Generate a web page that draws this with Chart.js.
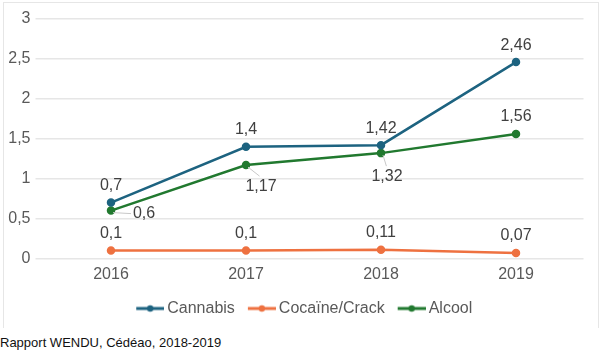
<!DOCTYPE html>
<html>
<head>
<meta charset="utf-8">
<script src="https://cdn.jsdelivr.net/npm/chart.js@4.4.1/dist/chart.umd.min.js"></script>
<style>
  body { margin: 0; background: #fff; font-family: "Liberation Sans", Arial, sans-serif; }
  #frame { position: absolute; left: 3px; top: 2px; width: 594px; height: 325px;
    border: 1px solid #e6e6e6; border-bottom: none; }
  #wrap { position: absolute; left: 0; top: 0; width: 599px; height: 330px; }
  #source { position: absolute; left: 0; top: 335px; font-size: 13px; color: #111; }
</style>
</head>
<body>
<div id="frame"></div>
<div id="wrap"><canvas id="chart"></canvas></div>
<div id="source">Rapport WENDU, Cédéao, 2018-2019</div>
<script>
const years = ['2016', '2017', '2018', '2019'];
const cannabis = [0.7, 1.4, 1.42, 2.46];
const cocaine = [0.1, 0.1, 0.11, 0.07];
const alcool = [0.6, 1.17, 1.32, 1.56];
const yTicks = [0, 0.5, 1, 1.5, 2, 2.5, 3];

const colors = ['#1d6380', '#ee7140', '#21792f'];
const FONT = '"Liberation Sans", Arial, sans-serif';

// label offsets from the point (dx, dy) and whether a leader line is drawn
const labelOffsets = [
  [[0, -17], [0, -17], [0, -17], [0, -17]],
  [[0, -17], [0, -17], [0, -17], [0, -17]],
  [[33, 3], [15, 21], [6, 23], [0, -17]]
];
const leaders = [
  [false, false, false, false],
  [false, false, false, false],
  [true, true, true, false]
];

const fmt = v => String(v).replace('.', ',');

const legendIcon = color => {
  const c = document.createElement('canvas');
  c.width = 38; c.height = 10;
  const ctx = c.getContext('2d');
  ctx.strokeStyle = color;
  ctx.lineWidth = 3;
  ctx.beginPath(); ctx.moveTo(10, 5); ctx.lineTo(38, 5); ctx.stroke();
  ctx.fillStyle = color;
  ctx.beginPath(); ctx.arc(24, 5, 3.2, 0, Math.PI * 2); ctx.fill();
  return c;
};

const valueLabels = {
  id: 'valueLabels',
  afterDatasetsDraw(chart) {
    const ctx = chart.ctx;
    ctx.save();
    ctx.font = '16px ' + FONT;
    ctx.textAlign = 'center';
    ctx.textBaseline = 'middle';
    chart.data.datasets.forEach((ds, i) => {
      chart.getDatasetMeta(i).data.forEach((pt, j) => {
        const [dx, dy] = labelOffsets[i][j];
        const lx = pt.x + dx, ly = pt.y + dy;
        if (leaders[i][j]) {
          ctx.strokeStyle = '#c8c8c8';
          ctx.lineWidth = 1;
          ctx.beginPath();
          ctx.moveTo(pt.x + 2, pt.y + 2);
          const tx = dx > 20 ? lx - 13 : lx - dx * 0.1;
          const ty = dx > 20 ? ly : ly - 10;
          ctx.lineTo(tx, ty);
          ctx.stroke();
        }
        ctx.fillStyle = '#404040';
        ctx.fillText(fmt(ds.data[j]), lx, ly);
      });
    });
    ctx.restore();
  }
};

// nudge the legend so it is centred under the whole frame
const legendShift = {
  id: 'legendShift',
  afterLayout(chart) {
    if (chart.legend) {
      chart.legend.left += 10;
      chart.legend.right += 10;
    }
  }
};

const mkSet = (label, data, color) => ({
  label, data,
  borderColor: color,
  backgroundColor: color,
  borderWidth: 2.5,
  pointRadius: 3,
  pointHoverRadius: 3,
  pointStyle: 'circle',
  tension: 0
});

const chart = new Chart(document.getElementById('chart'), {
  type: 'line',
  data: {
    labels: years,
    datasets: [
      mkSet('Cannabis', cannabis, colors[0]),
      mkSet('Cocaïne/Crack', cocaine, colors[1]),
      mkSet('Alcool', alcool, colors[2])
    ]
  },
  options: {
    responsive: true,
    maintainAspectRatio: false,
    animation: false,
    layout: { padding: { top: 19, right: 15.5, bottom: 3.5, left: 0 } },
    scales: {
      x: {
        offset: true,
        grid: { display: false, drawTicks: false },
        border: { display: false },
        ticks: { color: '#595959', padding: 6, font: { family: FONT, size: 16 } },
        afterFit: s => { s.height = 34; }
      },
      y: {
        min: 0, max: 3,
        afterBuildTicks: s => { s.ticks = yTicks.map(v => ({ value: v })); },
        grid: { color: '#e6e6e6', lineWidth: 1.5, tickLength: 8 },
        border: { display: false },
        ticks: { color: '#595959', padding: 5, callback: v => fmt(v), font: { family: FONT, size: 16 } },
        afterFit: s => { s.width = 43.5; }
      }
    },
    plugins: {
      tooltip: { enabled: false },
      legend: {
        position: 'bottom',
        labels: {
          usePointStyle: true,
          pointStyleWidth: 28,
          padding: 8,
          color: '#595959',
          font: { family: FONT, size: 16 },
          generateLabels: ch => ch.data.datasets.map((ds, i) => ({
            text: ds.label,
            pointStyle: legendIcon(colors[i]),
            fontColor: '#595959',
            lineWidth: 0,
            datasetIndex: i
          }))
        }
      }
    }
  },
  plugins: [valueLabels, legendShift]
});
</script>
</body>
</html>
